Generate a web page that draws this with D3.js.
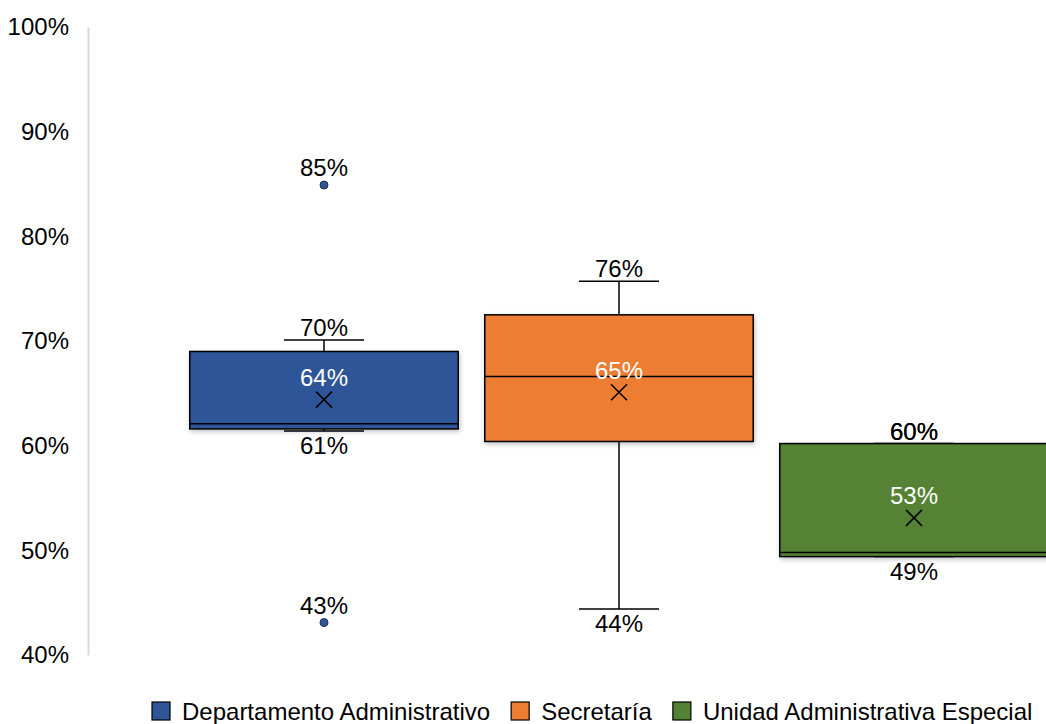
<!DOCTYPE html>
<html><head><meta charset="utf-8">
<script src="https://cdn.jsdelivr.net/npm/d3@7"></script>
<style>body{margin:0;background:#fff}text{font-family:Arial,"Liberation Sans",sans-serif}</style>
</head><body><svg id="c" width="1046" height="724"></svg>
<script>
const categories = ["Departamento Administrativo","Secretaría","Unidad Administrativa Especial"];
const colors = ["#2F5597","#ED7D31","#548235"];
const whiskerLow = [61.4, 44.4, 49.4];
const q1 = [61.6, 60.4, 49.4];
const median = [62.1, 66.6, 49.8];
const q3 = [69.0, 72.5, 60.2];
const whiskerHigh = [70.1, 75.7, 60.2];
const mean = [64.4, 65.1, 53.1];
const outliers = [[84.9, 43.1], [], []];
const yTicks = [40,50,60,70,80,90,100];

const FS = 24;
const svg = d3.select("#c");
const y = d3.scaleLinear().domain([40,100]).range([655,27]);
const x = d3.scaleBand().domain(categories).range([176.5,1061.5]).paddingInner(0.09).paddingOuter(0.045);
const fmt = v => Math.round(v) + "%";

const defs = svg.append("defs");
const f = defs.append("filter").attr("id","sh").attr("x","-10%").attr("y","-10%").attr("width","130%").attr("height","130%");
f.append("feDropShadow").attr("dx",1).attr("dy",2).attr("stdDeviation",2.5).attr("flood-color","#000").attr("flood-opacity",0.25);

const ax = svg.append("g").attr("transform","translate(88,0)").call(d3.axisLeft(y).tickValues(yTicks).tickSize(0).tickPadding(19).tickFormat(d=>d+"%"));
ax.select(".domain").attr("stroke","#d9d9d9").attr("stroke-width",2);
ax.selectAll("text").attr("font-size",FS).attr("fill","#000").attr("font-family","Arial, 'Liberation Sans', sans-serif");

const capW = 80, mk = 8;
categories.forEach((c,i)=>{
  const cx = x(c) + x.bandwidth()/2;
  const g = svg.append("g");
  g.append("line").attr("x1",cx).attr("x2",cx).attr("y1",y(whiskerHigh[i])).attr("y2",y(q3[i])).attr("stroke","#000").attr("stroke-width",1.5);
  g.append("line").attr("x1",cx).attr("x2",cx).attr("y1",y(q1[i])).attr("y2",y(whiskerLow[i])).attr("stroke","#000").attr("stroke-width",1.5);
  g.append("line").attr("x1",cx-capW/2).attr("x2",cx+capW/2).attr("y1",y(whiskerHigh[i])).attr("y2",y(whiskerHigh[i])).attr("stroke","#000").attr("stroke-width",1.5);
  g.append("line").attr("x1",cx-capW/2).attr("x2",cx+capW/2).attr("y1",y(whiskerLow[i])).attr("y2",y(whiskerLow[i])).attr("stroke","#000").attr("stroke-width",1.5);
  g.append("rect").attr("x",x(c)).attr("width",x.bandwidth()).attr("y",y(q3[i])).attr("height",y(q1[i])-y(q3[i]))
    .attr("fill",colors[i]).attr("stroke","#000").attr("stroke-width",1.5).attr("filter","url(#sh)");
  g.append("line").attr("x1",x(c)).attr("x2",x(c)+x.bandwidth()).attr("y1",y(median[i])).attr("y2",y(median[i])).attr("stroke","#000").attr("stroke-width",1.5);
  const my = y(mean[i]);
  g.append("path").attr("d",`M${cx-mk},${my-mk}L${cx+mk},${my+mk}M${cx-mk},${my+mk}L${cx+mk},${my-mk}`).attr("stroke","#000").attr("stroke-width",1.5);
  outliers[i].forEach(v=>{
    g.append("circle").attr("cx",cx).attr("cy",y(v)).attr("r",4).attr("fill",colors[i]).attr("stroke","#1f2f4f").attr("stroke-width",1);
    g.append("text").attr("x",cx).attr("y",y(v)-9).attr("text-anchor","middle").attr("font-size",FS).text(fmt(v));
  });
  g.append("text").attr("x",cx).attr("y",y(whiskerHigh[i])-4).attr("text-anchor","middle").attr("font-size",FS).text(fmt(whiskerHigh[i]));
  if (q3[i]===whiskerHigh[i]) g.append("text").attr("x",cx).attr("y",y(q3[i])-4).attr("text-anchor","middle").attr("font-size",FS).text(fmt(q3[i]));
  g.append("text").attr("x",cx).attr("y",y(whiskerLow[i])+23).attr("text-anchor","middle").attr("font-size",FS).text(fmt(whiskerLow[i]));
  g.append("text").attr("x",cx).attr("y",my-13.5).attr("text-anchor","middle").attr("font-size",FS).attr("fill","#fff").text(fmt(mean[i]));
});

const lg = svg.append("g").attr("transform","translate(0,711)");
let lx = 152;
categories.forEach((c,i)=>{
  lg.append("rect").attr("x",lx).attr("y",-9).attr("width",18).attr("height",18).attr("fill",colors[i]).attr("stroke","#000").attr("stroke-width",1.2);
  const t = lg.append("text").attr("x",lx+30).attr("y",8.5).attr("font-size",FS).text(c);
  lx += 30 + t.node().getComputedTextLength() + 21;
});
</script></body></html>
